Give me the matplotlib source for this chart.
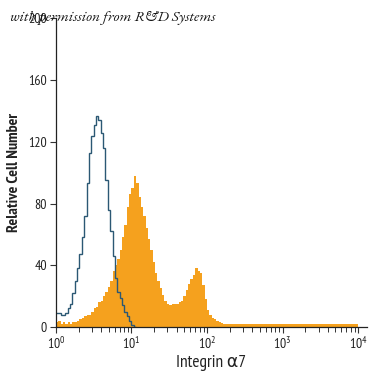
import numpy as np
import matplotlib
matplotlib.use("Agg")
import matplotlib.pyplot as plt
from matplotlib.ticker import LogLocator, FixedLocator

plt.rcParams['font.family'] = ['PT Sans Narrow', 'DejaVu Sans']
plt.rcParams['mathtext.fontset'] = 'custom'
plt.rcParams['mathtext.rm'] = 'PT Sans Narrow'
plt.rcParams['mathtext.it'] = 'PT Sans Narrow'
plt.rcParams['mathtext.bf'] = 'PT Sans Narrow:bold'

# histogram bins: 32 per decade, 10^0 .. 10^4
bins_per_decade = 32
n_bins = 128

# isotype control (outline)
control = [9, 9, 8, 8, 9, 12, 15, 22, 30, 38, 47, 58, 72, 93, 113, 124,
           131, 137, 134, 126, 116, 95, 76, 62, 46, 32, 23, 19, 14, 10, 7, 4,
           1, 0]

# Integrin alpha7 stained (filled)
stained = [3, 4, 2, 3, 2, 3, 2, 3, 3, 4, 5, 6, 7, 8, 8, 10,
           12, 13, 16, 17, 20, 23, 26, 30, 36, 40, 44, 50, 58, 66, 78, 86,
           90, 98, 93, 84, 78, 72, 64, 57, 50, 42, 35, 30, 25, 21, 17, 15,
           14, 15, 15, 15, 16, 17, 20, 24, 28, 31, 34, 38, 36, 35, 27, 18,
           11, 8, 6, 5, 4, 3, 2.5, 2, 2, 2, 2, 2, 2, 2, 2, 2,
           2, 2, 2, 2, 2, 2, 2, 2, 2, 2, 2, 2, 2, 2, 2, 2,
           2, 2, 2, 2, 2, 2, 2, 2, 2, 2, 2, 2, 2, 2, 2, 2,
           2, 2, 2, 2, 2, 2, 2, 2, 2, 2, 2, 2, 2, 2, 2, 2]

yticks = [0, 40, 80, 120, 160, 200]

edges = 10 ** (np.arange(n_bins + 1) / bins_per_decade)

fig = plt.figure(figsize=(3.75, 3.75), dpi=100)
ax = fig.add_axes([0.149, 0.128, 0.830, 0.823])

ax.stairs(stained, edges[:len(stained) + 1], fill=True, color='#F5A11E',
          linewidth=0)
ax.stairs(control, edges[:len(control) + 1], color='#2b5874', linewidth=1.0,
          baseline=None)

ax.set_xscale('log')
ax.set_xlim(1, 10 ** 4.12)
ax.set_ylim(0, 200)
ax.yaxis.set_major_locator(FixedLocator(yticks))
ax.xaxis.set_major_locator(LogLocator(base=10, numticks=10))
ax.xaxis.set_minor_locator(LogLocator(base=10, subs=np.arange(2, 10), numticks=10))

for s in ['top', 'right']:
    ax.spines[s].set_visible(False)
for s in ['left', 'bottom']:
    ax.spines[s].set_color('#222222')
    ax.spines[s].set_linewidth(0.9)

ax.tick_params(axis='both', which='major', length=4.5, width=0.8,
               color='#333333', labelsize=10, labelcolor='#222222', pad=2)
ax.tick_params(axis='x', which='minor', length=3.5, width=0.7, color='#333333')
ax.tick_params(axis='y', which='minor', length=0)

ax.set_ylabel('Relative Cell Number', fontsize=11.5, fontweight='bold',
              color='#222222', labelpad=5)
ax.set_xlabel('Integrin α7', fontsize=12.5, color='#222222', labelpad=2)

fig.text(0.027, 0.953, 'with permission from R&D Systems',
         family='EB Garamond', style='italic', fontsize=11,
         color='#111111', va='center', ha='left')

fig.savefig('out.png', dpi=100)
